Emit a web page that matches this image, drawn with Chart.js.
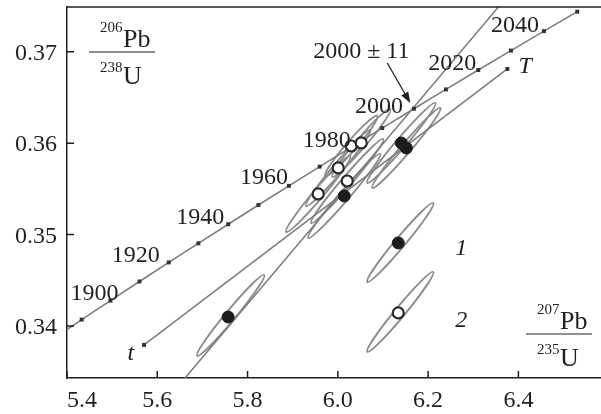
<!DOCTYPE html>
<html>
<head>
<meta charset="utf-8">
<script src="https://cdn.jsdelivr.net/npm/chart.js@4"></script>
<style>
  html, body { margin: 0; padding: 0; background: #fff; }
  #wrap { width: 601px; height: 414px; }
</style>
</head>
<body>
<div id="wrap"><canvas id="chart" width="601" height="414"></canvas></div>
<script>
// Concordia curve (age, Ma)
const concordiaYears = [1880, 1890, 1900, 1910, 1920, 1930, 1940, 1950, 1960, 1970, 1980, 1990, 2000, 2010, 2020, 2030, 2040, 2050];
const concordiaX = [5.3695, 5.4325, 5.4962, 5.5605, 5.6254, 5.6910, 5.7572, 5.8241, 5.8916, 5.9598, 6.0287, 6.0983, 6.1685, 6.2395, 6.3111, 6.3835, 6.4566, 6.5304];
const concordiaY = [0.33861, 0.34069, 0.34277, 0.34486, 0.34695, 0.34904, 0.35113, 0.35323, 0.35533, 0.35743, 0.35954, 0.36165, 0.36377, 0.36588, 0.36800, 0.37013, 0.37226, 0.37439];
const yearLabels = [1900, 1920, 1940, 1960, 1980, 2000, 2020, 2040];

// t - T line
const tLineX = [5.5707, 6.3756];
const tLineY = [0.33792, 0.36812];

// discordia through 2000 +- 11
const discordiaX = [5.6616, 6.3557];
const discordiaY = [0.33431, 0.37489];

// analyses: 1 = filled, 2 = open
const filledX = [5.757, 6.0142, 6.1406, 6.1517, 6.1339];
const filledY = [0.34098, 0.35422, 0.36002, 0.35947, 0.34908];
const openX = [5.9565, 6.0009, 6.0208, 6.0297, 6.0519, 6.1339];
const openY = [0.35444, 0.35729, 0.35586, 0.35969, 0.36002, 0.34142];

// error ellipses: ends of the long axis
const ellX1 = [5.6882, 6.0652, 6.0652, 5.8856, 5.9299, 5.9410, 5.9344, 5.9721, 5.9876, 6.0652, 6.0763];
const ellY1 = [0.33672, 0.34481, 0.33716, 0.35028, 0.35313, 0.35127, 0.34963, 0.35641, 0.35630, 0.35565, 0.35510];
const ellX2 = [5.8368, 6.2115, 6.2115, 6.0275, 6.0718, 6.1007, 6.0940, 6.0874, 6.1162, 6.2160, 6.2271];
const ellY2 = [0.34558, 0.35346, 0.34591, 0.35860, 0.36144, 0.36046, 0.35882, 0.36298, 0.36374, 0.36440, 0.36385];

const xTicks = [5.4, 5.6, 5.8, 6.0, 6.2, 6.4];
const yTicks = [0.34, 0.35, 0.36, 0.37];

// label nudges (px) for the year labels, right/baseline anchored at the dot
const yearDx = [8, -9, -4, -1, 0, -11, -2, -5];
const yearDy = [-1, 0, 0, -2, 0, 4, 0, 1];

const INK = '#231f20';
const GRAY = '#7d7d7d';
const SERIF = '"Liberation Serif", "DejaVu Serif", serif';
const ELLIPSE_HALF_WIDTH = 5;

const toPts = (xs, ys) => xs.map((x, i) => ({ x, y: ys[i] }));

const overlay = {
  id: 'overlay',
  beforeDatasetsDraw(chart) {
    const { ctx, chartArea: a, scales: { x, y } } = chart;
    ctx.save();
    ctx.beginPath();
    ctx.rect(a.left, a.top, a.right - a.left, a.bottom - a.top);
    ctx.clip();
    ctx.strokeStyle = '#8c8c8c';
    ctx.lineWidth = 1.9;
    ellX1.forEach((_, i) => {
      const x1 = x.getPixelForValue(ellX1[i]), y1 = y.getPixelForValue(ellY1[i]);
      const x2 = x.getPixelForValue(ellX2[i]), y2 = y.getPixelForValue(ellY2[i]);
      ctx.beginPath();
      ctx.ellipse((x1 + x2) / 2, (y1 + y2) / 2, Math.hypot(x2 - x1, y2 - y1) / 2,
        ELLIPSE_HALF_WIDTH, Math.atan2(y2 - y1, x2 - x1), 0, Math.PI * 2);
      ctx.stroke();
    });
    ctx.restore();
  },
  afterDatasetsDraw(chart) {
    const { ctx, chartArea: a, scales: { x, y } } = chart;
    ctx.save();
    // frame top + inner tick marks
    ctx.strokeStyle = INK;
    ctx.lineWidth = 1.5;
    ctx.beginPath();
    ctx.moveTo(a.left, a.top);
    ctx.lineTo(a.right, a.top);
    xTicks.forEach(v => {
      const px = x.getPixelForValue(v);
      ctx.moveTo(px, a.bottom);
      ctx.lineTo(px, a.bottom - 7);
    });
    yTicks.forEach(v => {
      const py = y.getPixelForValue(v);
      ctx.moveTo(a.left, py);
      ctx.lineTo(a.left + 7, py);
    });
    ctx.stroke();

    ctx.fillStyle = INK;
    ctx.textBaseline = 'alphabetic';

    // year labels on the concordia
    ctx.font = '24px ' + SERIF;
    ctx.textAlign = 'right';
    yearLabels.forEach((yr, i) => {
      const k = concordiaYears.indexOf(yr);
      const px = x.getPixelForValue(concordiaX[k]);
      const py = y.getPixelForValue(concordiaY[k]);
      ctx.fillText(String(yr), px + yearDx[i], py + yearDy[i]);
    });

    ctx.textAlign = 'center';
    ctx.fillText('2000 \u00B1 11', x.getPixelForValue(6.052), y.getPixelForValue(0.36932));

    // arrow to 2000
    const ax0 = x.getPixelForValue(6.1095), ay0 = y.getPixelForValue(0.36877);
    const ax1 = x.getPixelForValue(6.1605), ay1 = y.getPixelForValue(0.3644);
    const ang = Math.atan2(ay1 - ay0, ax1 - ax0);
    ctx.lineWidth = 1.3;
    ctx.beginPath();
    ctx.moveTo(ax0, ay0);
    ctx.lineTo(ax1 - 8 * Math.cos(ang), ay1 - 8 * Math.sin(ang));
    ctx.stroke();
    ctx.beginPath();
    ctx.moveTo(ax1, ay1);
    ctx.lineTo(ax1 - 11 * Math.cos(ang) + 4 * Math.sin(ang), ay1 - 11 * Math.sin(ang) - 4 * Math.cos(ang));
    ctx.lineTo(ax1 - 11 * Math.cos(ang) - 4 * Math.sin(ang), ay1 - 11 * Math.sin(ang) + 4 * Math.cos(ang));
    ctx.closePath();
    ctx.fill();

    // italic markers
    ctx.font = 'italic 24px ' + SERIF;
    ctx.textAlign = 'left';
    ctx.fillText('T', x.getPixelForValue(tLineX[1]) + 11, y.getPixelForValue(tLineY[1]) + 4);
    ctx.textAlign = 'right';
    ctx.fillText('t', x.getPixelForValue(tLineX[0]) - 10, y.getPixelForValue(tLineY[0]) + 15);
    ctx.textAlign = 'center';
    ctx.fillText('1', x.getPixelForValue(6.2736), y.getPixelForValue(0.34777));
    ctx.fillText('2', x.getPixelForValue(6.2736), y.getPixelForValue(0.33989));

    // axis fractions
    ctx.textAlign = 'left';
    const frac = (num, top, bot, left, lineY) => {
      ctx.font = '15px ' + SERIF;
      ctx.fillText(num, left + 11, lineY - 20);
      ctx.fillText(bot[0], left + 11, lineY + 20);
      ctx.font = '26px ' + SERIF;
      ctx.fillText(top, left + 34, lineY - 5);
      ctx.fillText(bot[1], left + 34, lineY + 32);
      ctx.lineWidth = 1.2;
      ctx.beginPath();
      ctx.moveTo(left, lineY);
      ctx.lineTo(left + 66, lineY);
      ctx.stroke();
    };
    frac('206', 'Pb', ['238', 'U'], 89, 52);
    frac('207', 'Pb', ['235', 'U'], 526, 334);
    ctx.restore();
  }
};

new Chart(document.getElementById('chart'), {
  type: 'scatter',
  data: {
    datasets: [
      {
        data: toPts(filledX, filledY), order: 0,
        pointRadius: 6, pointBackgroundColor: '#1c1c1c', pointBorderColor: '#1c1c1c', pointBorderWidth: 1
      },
      {
        data: toPts(openX, openY), order: 1,
        pointRadius: 5.5, pointBackgroundColor: '#fff', pointBorderColor: '#2a2a2a', pointBorderWidth: 2.2
      },
      {
        data: toPts(concordiaX, concordiaY), order: 3, showLine: true,
        borderColor: GRAY, borderWidth: 1.6, pointStyle: 'rect', pointRadius: 2.8,
        pointBackgroundColor: '#333', pointBorderColor: '#333', pointBorderWidth: 0
      },
      {
        data: toPts(tLineX, tLineY), order: 4, showLine: true,
        borderColor: GRAY, borderWidth: 1.6, pointStyle: 'rect', pointRadius: 2.8,
        pointBackgroundColor: '#333', pointBorderColor: '#333', pointBorderWidth: 0
      },
      {
        data: toPts(discordiaX, discordiaY), order: 5, showLine: true,
        borderColor: GRAY, borderWidth: 1.6, pointRadius: 0
      }
    ]
  },
  options: {
    responsive: false,
    animation: false,
    layout: { autoPadding: false, padding: { top: 7, right: 0, left: 0, bottom: 0 } },
    plugins: { legend: { display: false }, tooltip: { enabled: false } },
    scales: {
      x: {
        type: 'linear', min: 5.4, max: 6.583,
        grid: { display: false, drawTicks: false },
        border: { display: true, color: INK, width: 1.5 },
        afterBuildTicks: axis => { axis.ticks = xTicks.map(v => ({ value: v })).concat([{ value: axis.max }]); },
        ticks: {
          align: 'inner', padding: 8, autoSkip: false, maxRotation: 0,
          color: INK, font: { family: SERIF, size: 24 },
          callback: v => xTicks.includes(v) ? v.toFixed(1) : ''
        },
        afterFit: s => { s.height = 36; s.paddingLeft = 0; s.paddingRight = 0; }
      },
      y: {
        type: 'linear', min: 0.3343, max: 0.3749,
        grid: { display: false, drawTicks: false },
        border: { display: true, color: INK, width: 1.5 },
        afterBuildTicks: axis => { axis.ticks = yTicks.map(v => ({ value: v })); },
        ticks: {
          padding: 10, labelOffset: 2, color: INK, font: { family: SERIF, size: 24 },
          callback: v => v.toFixed(2)
        },
        afterFit: s => { s.width = 67; s.paddingTop = 0; s.paddingBottom = 0; }
      }
    }
  },
  plugins: [overlay]
});
</script>
</body>
</html>
